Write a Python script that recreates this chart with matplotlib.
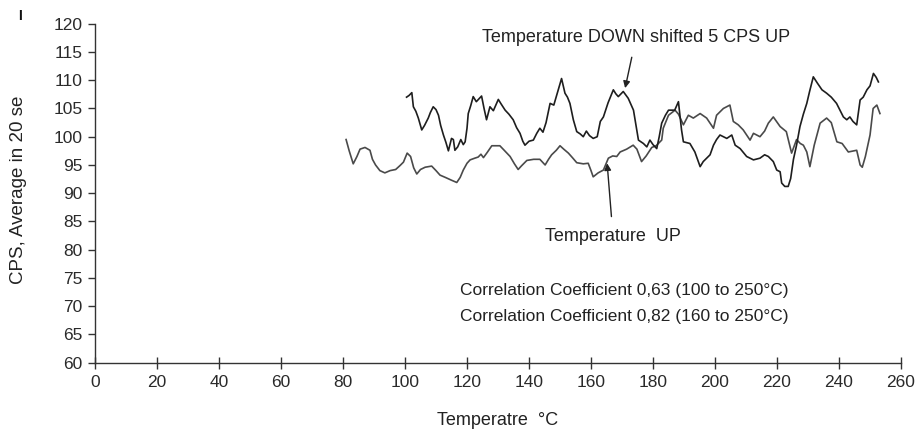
import matplotlib.pyplot as plt

# CPS counts vs temperature, heating run
temp_up = [81.0, 82.0, 83.3, 84.5, 85.5, 87.1, 88.7, 89.5, 90.5, 91.9, 93.5, 95.2, 97.0, 98.4,
           99.5, 100.7, 101.8, 102.8, 103.8, 105.0, 106.5, 108.6, 110.0, 111.3, 113.0, 115.0,
           116.7, 117.8, 118.8, 120.0, 121.0, 122.5, 123.6, 124.5, 125.3, 126.5, 128.0, 130.6,
           132.0, 133.9, 135.3, 136.5, 137.5, 139.3, 141.5, 143.5, 145.2, 146.3, 147.3, 148.8,
           150.0, 151.2, 152.7, 154.0, 155.4, 157.5, 159.1, 160.0, 160.7, 162.3, 164.0, 165.6,
           167.0, 168.3, 169.4, 171.5, 173.6, 174.8, 176.3, 177.8, 179.6, 181.0, 182.8, 183.3,
           185.0, 187.1, 188.2, 189.8, 191.4, 193.0, 195.2, 197.3, 199.5, 200.5, 202.7, 204.8,
           205.9, 207.5, 209.1, 211.3, 212.4, 214.5, 216.0, 217.2, 218.8, 221.0, 223.0, 224.7,
           226.3, 227.5, 228.5, 229.6, 230.6, 232.0, 233.9, 236.0, 237.5, 239.3, 241.0, 243.0,
           245.7, 246.8, 247.5, 248.5, 250.0, 251.0, 252.2, 253.2]
cps_up = [99.5, 97.5, 95.2, 96.5, 97.8, 98.1, 97.6, 96.0, 95.0, 94.0, 93.6, 94.0, 94.2, 94.9,
          95.5, 97.1, 96.5, 94.5, 93.4, 94.2, 94.6, 94.8, 94.0, 93.2, 92.8, 92.3,
          91.9, 92.8, 94.1, 95.3, 95.9, 96.2, 96.4, 96.9, 96.3, 97.2, 98.4, 98.4,
          97.6, 96.5, 95.2, 94.2, 94.8, 95.8, 96.0, 96.0, 95.0, 96.0, 96.8, 97.6,
          98.4, 97.8, 97.1, 96.3, 95.4, 95.2, 95.3, 94.0, 92.9, 93.6, 94.1, 96.2,
          96.6, 96.5, 97.3, 97.8, 98.5, 97.8, 95.6, 96.6, 98.1, 98.4, 99.4, 101.5,
          103.8, 104.7, 104.0, 102.1, 103.8, 103.3, 104.1, 103.3, 101.5, 103.8, 105.0, 105.6,
          102.7, 102.1, 101.2, 99.4, 100.6, 100.0, 101.0, 102.4, 103.5, 101.8, 100.9, 97.1,
          99.5, 98.8, 98.5, 97.3, 94.7, 98.5, 102.4, 103.3, 102.5, 99.1, 98.8, 97.3,
          97.6, 95.0, 94.6, 96.5, 100.3, 105.0, 105.6, 104.1]

# cooling run, shifted 5 CPS up
temp_down = [100.5, 101.3, 102.2, 102.7, 103.5, 104.3, 105.4, 106.3, 107.5, 108.2, 109.1, 110.0,
             110.8, 111.5, 112.4, 113.2, 114.0, 115.0, 115.6, 116.1, 117.0, 118.0, 118.8, 119.4,
             120.0, 120.4, 121.2, 122.0, 123.0, 124.0, 124.7, 125.5, 126.3, 127.4, 128.5, 130.1,
             131.0, 132.3, 133.5, 134.9, 136.0, 137.1, 138.0, 138.7, 140.0, 141.4, 142.5, 143.5,
             144.5, 145.5, 146.8, 148.0, 149.0, 150.5, 151.6, 152.4, 153.2, 154.3, 155.4, 156.5,
             157.5, 158.5, 159.5, 160.7, 162.0, 163.0, 164.0, 165.5, 167.2, 168.0, 168.8, 170.4,
             172.0, 173.7, 174.5, 175.3, 176.9, 178.0, 179.0, 180.0, 181.2, 182.0, 182.8, 184.0,
             185.0, 187.0, 188.2, 189.2, 189.8, 191.9, 193.5, 195.2, 196.2, 197.3, 198.4, 199.5,
             200.5, 201.6, 203.8, 205.4, 206.5, 208.1, 210.2, 212.4, 214.5, 216.0, 217.2, 218.8,
             219.9, 221.0, 221.5, 222.5, 223.6, 224.4, 225.3, 226.3, 227.4, 228.5, 229.6, 230.5,
             231.7, 233.0, 234.5, 236.0, 237.5, 239.2, 240.3, 241.4, 242.5, 243.5, 244.5, 245.7,
             246.8, 247.8, 249.0, 250.0, 251.1, 252.0, 252.7]
cps_down = [107.0, 107.3, 107.8, 105.3, 104.5, 103.3, 101.2, 102.0, 103.3, 104.3, 105.3, 104.8,
            103.8, 102.0, 100.3, 99.0, 97.5, 99.7, 99.5, 97.6, 98.2, 99.5, 98.6, 99.1,
            101.5, 104.1, 105.5, 107.1, 106.2, 106.8, 107.2, 105.0, 103.0, 105.3, 104.6, 106.6,
            105.8, 104.7, 104.0, 103.0, 101.6, 100.6, 99.2, 98.5, 99.2, 99.4, 100.6, 101.5,
            100.8, 102.5, 105.9, 105.6, 107.5, 110.3, 107.7, 107.0, 105.9, 103.0, 100.9, 100.5,
            100.0, 101.0, 100.2, 99.7, 100.0, 102.7, 103.5, 106.0, 108.3, 107.6, 107.1, 108.0,
            106.8, 104.7, 102.0, 99.4, 98.8, 98.2, 99.4, 98.6, 97.9, 100.0, 102.4, 103.8,
            104.7, 104.7, 106.2, 101.2, 99.1, 98.8, 97.3, 94.7, 95.6, 96.2, 96.8, 98.5,
            99.5, 100.3, 99.7, 100.3, 98.5, 97.9, 96.5, 95.9, 96.2, 96.8, 96.5, 95.6,
            94.1, 93.8, 91.8, 91.2, 91.2, 92.6, 96.0, 98.5, 101.8, 104.0, 105.9, 108.0,
            110.6, 109.5, 108.3, 107.7, 107.0, 105.9, 104.7, 103.5, 103.0, 103.5, 102.7, 102.1,
            106.5, 107.0, 108.3, 109.0, 111.2, 110.5, 109.7]

x_ticks = list(range(0, 261, 20))
y_ticks = list(range(60, 121, 5))

plt.rcParams['font.family'] = ['Liberation Sans', 'DejaVu Sans']

fig = plt.figure(figsize=(9.23, 4.32), dpi=100)
ax = fig.add_axes([0.1029, 0.1604, 0.8733, 0.7847])

ax.plot(temp_up, cps_up, color='#4a4a4a', lw=1.2)
ax.plot(temp_down, cps_down, color='#1e1e1e', lw=1.2)

ax.set_xlim(0, 260)
ax.set_ylim(60, 120)
ax.set_xticks(x_ticks)
ax.set_yticks(y_ticks)

for side in ['top', 'right']:
    ax.spines[side].set_visible(False)
for side in ['left', 'bottom']:
    ax.spines[side].set_color('#333333')
    ax.spines[side].set_linewidth(1.0)

ax.tick_params(axis='y', direction='out', length=5, width=1, color='#333333', pad=4)
ax.tick_params(axis='x', direction='inout', length=8, width=1, color='#333333', pad=5)
for lbl in ax.get_xticklabels() + ax.get_yticklabels():
    lbl.set_fontsize(12.5)
    lbl.set_color('#2a2a2a')

ax.set_xlabel('Temperatre  °C', fontsize=13, color='#222222')
ax.xaxis.set_label_coords(0.5, -0.145)
ax.set_ylabel('CPS, Average in 20 se', fontsize=13.5, color='#222222')
ax.yaxis.set_label_coords(-0.084, 0.509)

ax.annotate('Temperature DOWN shifted 5 CPS UP', xy=(171.0, 108.6), xytext=(174.5, 117.5),
            ha='center', va='center', fontsize=13, color='#222222',
            arrowprops=dict(arrowstyle='-|>', color='#222222', lw=1.0, mutation_scale=10,
                            shrinkA=6, shrinkB=0))
ax.annotate('Temperature  UP', xy=(165.2, 95.3), xytext=(167.1, 82.4),
            ha='center', va='center', fontsize=13, color='#222222',
            arrowprops=dict(arrowstyle='-|>', color='#222222', lw=1.0, mutation_scale=10,
                            shrinkA=6, shrinkB=0))

ax.text(117.7, 72.7, 'Correlation Coefficient 0,63 (100 to 250°C)', fontsize=12.5,
        color='#222222', va='center', ha='left')
ax.text(117.7, 68.2, 'Correlation Coefficient 0,82 (160 to 250°C)', fontsize=12.5,
        color='#222222', va='center', ha='left')

# stray mark in the top-left corner
fig.text(0.022, 0.962, 'I', fontsize=10, fontweight='bold', color='#111111',
         ha='center', va='center')

fig.savefig('out.png', dpi=100)
